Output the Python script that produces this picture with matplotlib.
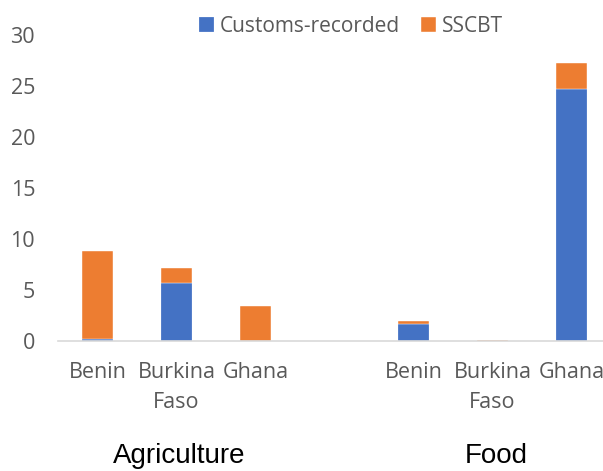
import matplotlib
matplotlib.use("Agg")
import matplotlib.pyplot as plt
import numpy as np

countries = ["Benin", "Burkina\nFaso", "Ghana"]
groups = ["Agriculture", "Food"]
agri_customs = [0.23, 5.7, 0.0]
agri_sscbt = [8.62, 1.43, 3.4]
food_customs = [1.64, 0.0, 24.7]
food_sscbt = [0.32, 0.05, 2.6]
yticks = [0, 5, 10, 15, 20, 25, 30]

blue = "#4472C4"
orange = "#ED7D31"
gray = "#595959"

fig = plt.figure(figsize=(6.03, 4.71), dpi=100)
W, H = 603, 471
ax = fig.add_axes([58 / W, 1 - 341 / H, 1 - 58 / W, (341 - 35) / H])

pos = np.array([0, 1, 2, 4, 5, 6])
customs = np.array(agri_customs + food_customs)
sscbt = np.array(agri_sscbt + food_sscbt)
bw = 0.4
ax.bar(pos, customs, bw, color=blue, edgecolor="white", linewidth=0.15, label="Customs-recorded", zorder=2)
ax.bar(pos, sscbt, bw, bottom=customs, color=orange, edgecolor="white", linewidth=0.3, label="SSCBT", zorder=2)

ax.set_xlim(-0.5, 6.4)
ax.set_ylim(0, 30)
ax.set_yticks(yticks)
ax.set_xticks(pos)
ax.set_xticklabels(countries * 2, linespacing=1.6)
for s in ["top", "right", "left"]:
    ax.spines[s].set_visible(False)
ax.spines["bottom"].set_color("#d9d9d9")
ax.spines["bottom"].set_linewidth(1.2)
ax.tick_params(axis="both", length=0, colors=gray)
ax.tick_params(axis="x", labelsize=15.5, pad=15)
ax.tick_params(axis="y", labelsize=15.5, pad=16.5)
for lab in ax.get_xticklabels() + ax.get_yticklabels():
    lab.set_family("Open Sans")

fig.text(179 / W, 1 - 463 / H, groups[0], ha="center", va="baseline", fontsize=20, family="Liberation Sans", color="black")
fig.text(496 / W, 1 - 463 / H, groups[1], ha="center", va="baseline", fontsize=20, family="Liberation Sans", color="black")

leg = fig.legend(loc="center", bbox_to_anchor=(351 / W, 1 - 26 / H), ncol=2, frameon=False,
                 handlelength=0.72, handleheight=0.72, handletextpad=0.28, columnspacing=1.0,
                 borderaxespad=0, borderpad=0,
                 prop={"family": "Open Sans", "size": 15})
for t in leg.get_texts():
    t.set_color(gray)

fig.savefig("out.png", dpi=100)
